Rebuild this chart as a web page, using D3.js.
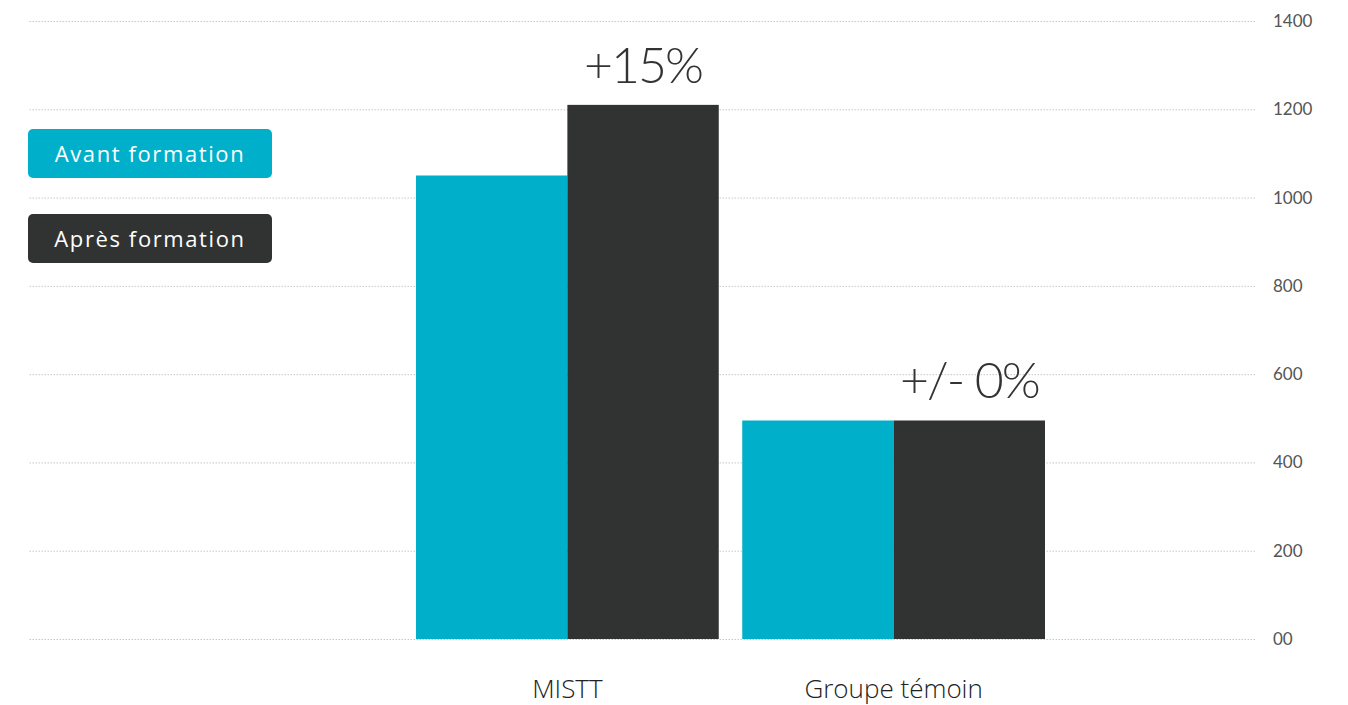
<!DOCTYPE html>
<html>
<head>
<meta charset="utf-8">
<script src="https://cdn.jsdelivr.net/npm/d3@7"></script>
<style>
  body { margin: 0; background: #fff; }
  svg text { font-family: Lato, "Open Sans", sans-serif; }
</style>
</head>
<body>
<div id="chart-area"></div>
<script>
const categories = ["MISTT", "Groupe témoin"];
const series = ["Avant formation", "Après formation"];
const avantValues = [1050, 495];
const apresValues = [1210, 495];
const changeLabels = ["+15%", "+/- 0%"];
const tickValues = [0, 200, 400, 600, 800, 1000, 1200, 1400];
const tickLabels = ["00", "200", "400", "600", "800", "1000", "1200", "1400"];

const width = 1348, height = 705;
const colors = ["#00afc9", "#313232"];

const svg = d3.select("#chart-area")
    .append("svg")
    .attr("width", width)
    .attr("height", height);

const y = d3.scaleLinear()
    .domain([0, 1400])
    .range([639, 21]);

const x = d3.scaleBand()
    .domain(categories)
    .range([416, 1045])
    .paddingInner(0.072)
    .paddingOuter(0);

const xSub = d3.scaleBand()
    .domain(series)
    .range([0, x.bandwidth()]);

const color = d3.scaleOrdinal().domain(series).range(colors);

// gridlines
const grid = svg.append("g")
    .attr("transform", "translate(1255,0)")
    .call(d3.axisLeft(y).tickValues(tickValues).tickSize(1227).tickFormat(""));
grid.select(".domain").remove();
grid.selectAll("line")
    .attr("stroke", "#c8c8c8")
    .attr("stroke-dasharray", "1.5,1.5");

// y labels on the right
const yAxis = svg.append("g")
    .attr("transform", "translate(1273,0)")
    .call(d3.axisRight(y).tickValues(tickValues).tickSize(0).tickPadding(0)
        .tickFormat((d, i) => tickLabels[i]));
yAxis.select(".domain").remove();
yAxis.selectAll("text")
    .attr("font-size", 17)
    .attr("fill", "#555")
    .attr("text-anchor", "start");

// bars
const data = categories.map((c, i) => ({
    cat: c,
    values: [
        { key: series[0], value: avantValues[i] },
        { key: series[1], value: apresValues[i] }
    ],
    label: changeLabels[i]
}));

const groups = svg.selectAll(".items")
    .data(data)
    .enter().append("g")
    .attr("class", "items")
    .attr("transform", d => `translate(${x(d.cat)},0)`);

groups.selectAll("rect")
    .data(d => d.values)
    .enter().append("rect")
    .attr("x", d => xSub(d.key))
    .attr("y", d => y(d.value))
    .attr("width", xSub.bandwidth())
    .attr("height", d => y(0) - y(d.value))
    .attr("fill", d => color(d.key));

// change labels above the "après" bar
groups.append("text")
    .attr("x", xSub(series[1]) + xSub.bandwidth() / 2)
    .attr("y", d => y(d.values[1].value) - 22)
    .attr("text-anchor", "middle")
    .attr("font-size", 50)
    .attr("font-weight", 300)
    .attr("letter-spacing", -2)
    .attr("fill", "#333")
    .text(d => d.label);

// category labels
const xAxis = svg.append("g")
    .attr("transform", "translate(0,639)")
    .call(d3.axisBottom(x).tickSize(0).tickPadding(0));
xAxis.select(".domain").remove();
xAxis.selectAll("text")
    .attr("dy", null)
    .attr("y", 59)
    .style("font-family", "'Open Sans', sans-serif")
    .attr("font-size", 26)
    .attr("font-weight", 300)
    .attr("fill", "#222");

// legend
const legend = svg.selectAll(".legend")
    .data(series)
    .enter().append("g")
    .attr("class", "legend")
    .attr("transform", (d, i) => `translate(28,${129 + i * 85})`);

legend.append("rect")
    .attr("width", 244)
    .attr("height", 49)
    .attr("rx", 5)
    .attr("fill", d => color(d));

legend.append("text")
    .attr("x", 122)
    .attr("y", 33)
    .attr("text-anchor", "middle")
    .style("font-family", "'Open Sans', sans-serif")
    .attr("font-size", 22)
    .attr("letter-spacing", 1.6)
    .attr("fill", "#fff")
    .text(d => d);
</script>
</body>
</html>
